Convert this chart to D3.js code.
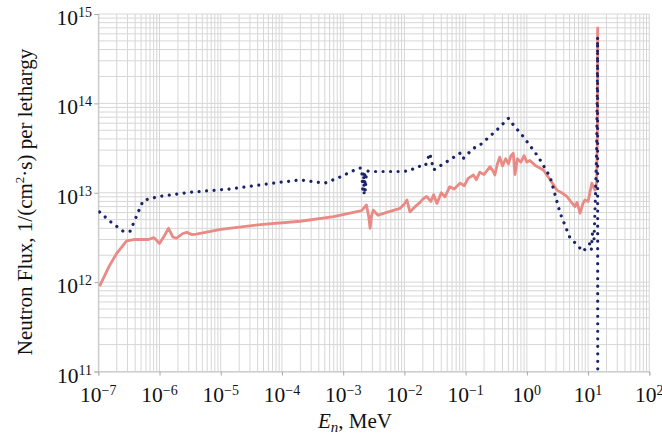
<!DOCTYPE html>
<html>
<head>
<meta charset="utf-8">
<script src="https://cdn.jsdelivr.net/npm/d3@7"></script>
<style>
  html, body { margin: 0; padding: 0; background: #fff; }
  svg text { font-family: "Liberation Serif", "Times New Roman", serif; fill: #111; }
</style>
</head>
<body>
<svg id="chart" width="662" height="439"></svg>
<script>
// Neutron energy (MeV) and flux per lethargy, 1/(cm^2 s)
const redEnergy = [1.05e-7, 1.5e-7, 2.0e-7, 2.9e-7, 4e-7, 6.6e-7, 8.1e-7, 1.0e-6, 1.2e-6, 1.4e-6,
  1.65e-6, 1.9e-6, 2.4e-6, 2.8e-6, 3.4e-6, 4e-6, 1e-5, 4.4e-5, 2e-4, 7e-4,
  2.0e-3, 2.4e-3, 2.6e-3, 2.75e-3, 2.9e-3, 3.1e-3, 3.7e-3, 5e-3, 8.5e-3, 1.0e-2,
  1.1e-2, 1.23e-2, 1.5e-2, 1.8e-2, 2.0e-2, 2.3e-2, 2.7e-2, 3.0e-2, 3.4e-2, 4.0e-2,
  4.6e-2, 5.5e-2, 6.5e-2, 8.1e-2, 9.5e-2, 0.11, 0.134, 0.15, 0.17, 0.2,
  0.25, 0.28, 0.3, 0.33, 0.36, 0.4, 0.45, 0.5, 0.55, 0.6,
  0.64, 0.7, 0.8, 0.9, 1.0, 1.12, 1.4, 1.86, 2.4, 3.1,
  3.7, 4.5, 5.2, 6.1, 6.6, 7.4, 8.2, 8.9, 10, 11.5,
  13, 13.8, 14.2, 14.35];
const redFlux = [9.0e11, 1.5e12, 2.1e12, 2.9e12, 3.0e12, 3.0e12, 3.15e12, 2.7e12, 3.3e12, 4.0e12,
  3.2e12, 3.1e12, 3.5e12, 3.6e12, 3.4e12, 3.45e12, 3.9e12, 4.4e12, 4.8e12, 5.4e12,
  6.3e12, 7.3e12, 5.5e12, 4.0e12, 5.5e12, 6.4e12, 5.6e12, 6.0e12, 6.7e12, 7.5e12,
  8.3e12, 6.1e12, 7.0e12, 7.8e12, 8.5e12, 9.1e12, 8.0e12, 9.5e12, 7.6e12, 1.0e13,
  9.0e12, 1.17e13, 1.1e13, 1.28e13, 1.2e13, 1.45e13, 1.58e13, 1.4e13, 1.7e13, 1.6e13,
  1.96e13, 1.75e13, 1.58e13, 2.1e13, 2.5e13, 2.0e13, 2.4e13, 2.1e13, 2.6e13, 2.76e13,
  1.6e13, 2.4e13, 2.2e13, 2.6e13, 2.2e13, 2.3e13, 2.0e13, 1.8e13, 1.4e13, 1.07e13,
  1.0e13, 9.1e12, 8.0e12, 7.0e12, 7.8e12, 5.9e12, 7.5e12, 8.3e12, 8.0e12, 1.28e13,
  1.07e13, 1.3e13, 5e13, 7.2e14];

const blueEnergy = [1.05e-7, 1.55e-7, 2.56e-7, 3.3e-7, 4.5e-7, 5.4e-7, 1e-6, 3.1e-6, 1.4e-5, 9.3e-5,
  2e-4, 5e-4, 8.9e-4, 1.77e-3, 2.0e-3, 2.1e-3, 2.15e-3, 2.2e-3, 2.25e-3, 2.3e-3,
  2.4e-3, 2.9e-3, 8.5e-3, 1.2e-2, 1.6e-2, 2.2e-2, 2.6e-2, 3.0e-2, 5.5e-2, 8.1e-2,
  9e-2, 0.134, 0.17, 0.32, 0.5, 0.6, 0.87, 1.55, 2.4, 3.5,
  5.0, 8.3, 10.7, 11.3, 11.8, 12.5, 13.2, 13.8, 14.1, 14.3,
  14.33, 14.36, 14.4];
const blueFlux = [6.1e12, 4.8e12, 3.7e12, 3.7e12, 6.1e12, 8.2e12, 9.1e12, 1.01e13, 1.1e13, 1.31e13,
  1.39e13, 1.28e13, 1.5e13, 1.88e13, 1.9e13, 1.0e13, 1.7e13, 9.5e12, 1.6e13, 1.05e13,
  1.75e13, 1.73e13, 1.73e13, 1.75e13, 1.96e13, 2.0e13, 2.77e13, 1.8e13, 2.33e13, 2.77e13,
  2.4e13, 3.14e13, 3.4e13, 5.0e13, 6.8e13, 5.75e13, 4.27e13, 2.5e13, 1.5e13, 5.9e12,
  3.2e12, 2.2e12, 2.7e12, 2.3e12, 3.5e12, 3.0e12, 9e12, 3e13, 1.2e14, 5.5e14,
  3e13, 1e12, 5e10];

const xDecades = [1e-7, 1e-6, 1e-5, 1e-4, 1e-3, 1e-2, 1e-1, 1e0, 1e1, 1e2];
const xExponents = ["−7", "−6", "−5", "−4", "−3", "−2", "−1", "0", "1", "2"];
const yDecades = [1e11, 1e12, 1e13, 1e14, 1e15];
const yExponents = ["11", "12", "13", "14", "15"];

const svg = d3.select("#chart");
const plotLeft = 98.3, plotRight = 649.3, plotTop = 14, plotBottom = 371.5;

const x = d3.scaleLog().domain([1e-7, 1e2]).range([plotLeft, plotRight]);
const y = d3.scaleLog().domain([1e11, 1e15]).range([plotBottom, plotTop]);

// grid: every 1..9 multiple in each decade
const gridColor = "#d7d7d7";
const g = svg.append("g");
g.selectAll("line.vx").data(x.ticks(20)).join("line")
  .attr("x1", d => x(d)).attr("x2", d => x(d))
  .attr("y1", plotTop).attr("y2", plotBottom)
  .attr("stroke", gridColor).attr("stroke-width", 1);
g.selectAll("line.hy").data(y.ticks(20)).join("line")
  .attr("y1", d => y(d)).attr("y2", d => y(d))
  .attr("x1", plotLeft).attr("x2", plotRight)
  .attr("stroke", gridColor).attr("stroke-width", 1);

// axes with short outward ticks
const xAxis = svg.append("g").attr("transform", `translate(0,${plotBottom})`)
  .call(d3.axisBottom(x).tickValues(xDecades).tickSize(4).tickFormat(""));
const yAxis = svg.append("g").attr("transform", `translate(${plotLeft},0)`)
  .call(d3.axisLeft(y).tickValues(yDecades).tickSize(4).tickFormat(""));
[xAxis, yAxis].forEach(a => {
  a.selectAll("path.domain").attr("stroke", "#c4c4c4");
  a.selectAll(".tick line").attr("stroke", "#a8a8a8");
});

// tick labels as 10 with superscript exponent
const xl = svg.append("g").selectAll("text").data(xDecades).join("text")
  .attr("x", d => x(d)).attr("y", plotBottom + 30)
  .attr("text-anchor", "middle").attr("font-size", 21.5);
xl.append("tspan").text("10");
xl.append("tspan").attr("font-size", 14).attr("dy", -7).text((d, i) => xExponents[i]);

const yl = svg.append("g").selectAll("text").data(yDecades).join("text")
  .attr("x", 92).attr("y", d => y(d) + 11)
  .attr("text-anchor", "end").attr("font-size", 21.5);
yl.append("tspan").text("10");
yl.append("tspan").attr("font-size", 14).attr("dy", -8).text((d, i) => yExponents[i]);

// clip for the data lines
svg.append("clipPath").attr("id", "plot-clip").append("rect")
  .attr("x", plotLeft).attr("y", plotTop - 2)
  .attr("width", plotRight - plotLeft).attr("height", plotBottom - plotTop + 2);

const line = d3.line().x(d => x(d[0])).y(d => y(d[1]));
const redData = redEnergy.map((e, i) => [e, redFlux[i]]);
const blueData = blueEnergy.map((e, i) => [e, blueFlux[i]]);

svg.append("path").datum(redData)
  .attr("clip-path", "url(#plot-clip)")
  .attr("d", line).attr("fill", "none")
  .attr("stroke", "#e98a84").attr("stroke-width", 2.8)
  .attr("stroke-linejoin", "round");

svg.append("path").datum(blueData)
  .attr("clip-path", "url(#plot-clip)")
  .attr("d", line).attr("fill", "none")
  .attr("stroke", "#1c2468").attr("stroke-width", 3.2)
  .attr("stroke-linecap", "round")
  .attr("stroke-dasharray", "0.01 7.5");

// axis titles
const yt = svg.append("text")
  .attr("transform", "translate(32,202) rotate(-90)")
  .attr("text-anchor", "middle").attr("font-size", 21);
yt.append("tspan").text("Neutron Flux, 1/(cm");
yt.append("tspan").attr("font-size", 13).attr("dy", -8).text("2");
yt.append("tspan").attr("dy", 8).text("·s) per lethargy");

const xt = svg.append("text")
  .attr("x", 355).attr("y", 428)
  .attr("text-anchor", "middle").attr("font-size", 21);
xt.append("tspan").attr("font-style", "italic").text("E");
xt.append("tspan").attr("font-style", "italic").attr("font-size", 15).attr("dy", 4).text("n");
xt.append("tspan").attr("dy", -4).text(", MeV");
</script>
</body>
</html>
